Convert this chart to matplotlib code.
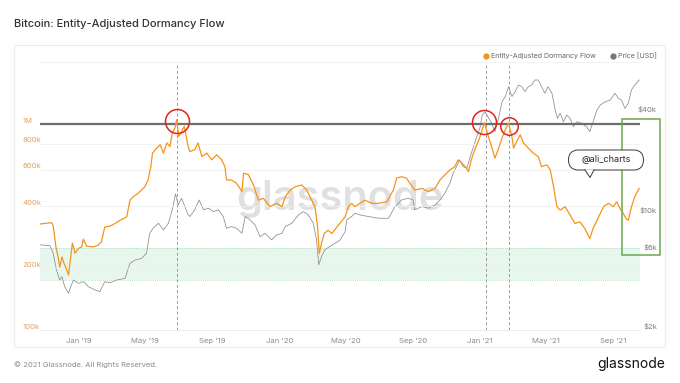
import matplotlib
matplotlib.use("Agg")
import numpy as np
import pandas as pd
from matplotlib import pyplot as plt
from matplotlib.patches import Rectangle, FancyBboxPatch, Polygon
from matplotlib.ticker import NullLocator

plt.rcParams['font.family'] = ['Inter', 'DejaVu Sans']

# ---- data ----
flow_dates = [
    '2018-10-22', '2018-11-12', '2018-11-15', '2018-11-20', '2018-11-24', '2018-11-27', '2018-12-01',
    '2018-12-05', '2018-12-10', '2018-12-13', '2018-12-17', '2018-12-20', '2018-12-25', '2018-12-31',
    '2019-01-06', '2019-01-09', '2019-01-15', '2019-01-27', '2019-02-05', '2019-02-11', '2019-02-17',
    '2019-02-26', '2019-03-08', '2019-03-17', '2019-03-29', '2019-04-04', '2019-04-10', '2019-04-19',
    '2019-05-01', '2019-05-07', '2019-05-12', '2019-05-15', '2019-05-20', '2019-05-29', '2019-06-04',
    '2019-06-10', '2019-06-16', '2019-06-20', '2019-06-25', '2019-06-28', '2019-07-02', '2019-07-07',
    '2019-07-12', '2019-07-19', '2019-07-22', '2019-07-31', '2019-08-06', '2019-08-13', '2019-08-22',
    '2019-08-31', '2019-09-09', '2019-09-18', '2019-09-24', '2019-09-27', '2019-10-06', '2019-10-15',
    '2019-10-25', '2019-10-28', '2019-11-06', '2019-11-15', '2019-11-24', '2019-12-03', '2019-12-15',
    '2019-12-27', '2020-01-06', '2020-01-12', '2020-01-21', '2020-01-30', '2020-02-11', '2020-02-20',
    '2020-02-29', '2020-03-06', '2020-03-11', '2020-03-14', '2020-03-18', '2020-03-23', '2020-03-30',
    '2020-04-06', '2020-04-15', '2020-04-24', '2020-04-30', '2020-05-06', '2020-05-12', '2020-05-18',
    '2020-05-27', '2020-06-05', '2020-06-18', '2020-06-30', '2020-07-15', '2020-07-27', '2020-08-02',
    '2020-08-11', '2020-08-20', '2020-08-26', '2020-09-04', '2020-09-17', '2020-09-29', '2020-10-11',
    '2020-10-20', '2020-10-29', '2020-11-07', '2020-11-16', '2020-11-22', '2020-11-29', '2020-12-05',
    '2020-12-11', '2020-12-16', '2020-12-20', '2020-12-26', '2020-12-30', '2021-01-04', '2021-01-09',
    '2021-01-16', '2021-01-22', '2021-01-28', '2021-02-03', '2021-02-10', '2021-02-16', '2021-02-22',
    '2021-02-28', '2021-03-03', '2021-03-09', '2021-03-15', '2021-03-21', '2021-03-30', '2021-04-08',
    '2021-04-17', '2021-04-23', '2021-05-03', '2021-05-09', '2021-05-15', '2021-05-21', '2021-05-27',
    '2021-06-05', '2021-06-14', '2021-06-23', '2021-07-02', '2021-07-11', '2021-07-20', '2021-07-26',
    '2021-08-05', '2021-08-14', '2021-08-23', '2021-09-01', '2021-09-07', '2021-09-13', '2021-09-19',
    '2021-09-24', '2021-09-28', '2021-10-04', '2021-10-10', '2021-10-18',
]
flow_k = [
    327, 332, 322, 253, 226, 202, 226,
    210, 195, 185, 226, 264, 236, 249,
    253, 276, 255, 253, 258, 268, 316,
    319, 329, 341, 354, 427, 444, 461,
    496, 535, 621, 722, 750, 793, 722,
    809, 778, 904, 957, 1050, 870, 921,
    974, 778, 735, 750, 809, 695, 722,
    670, 709, 670, 621, 535, 535, 516,
    470, 577, 567, 506, 427, 436, 397,
    412, 397, 444, 478, 496, 506, 478,
    427, 397, 316, 235, 263, 294, 305,
    294, 316, 338, 354, 397, 412, 397,
    412, 427, 412, 412, 419, 478, 546,
    555, 546, 516, 478, 487, 470, 487,
    535, 567, 598, 621, 670, 646, 621,
    587, 670, 722, 793, 838, 921, 1016,
    870, 778, 683, 750, 855, 938, 1011,
    870, 764, 823, 887, 809, 764, 722,
    695, 621, 633, 598, 496, 397, 382,
    397, 362, 329, 335, 311, 278, 311,
    354, 397, 412, 397, 419, 389, 368,
    348, 341, 397, 444, 487,
]

price_dates = [
    '2018-10-22', '2018-11-09', '2018-11-15', '2018-11-21', '2018-11-27', '2018-12-01', '2018-12-06',
    '2018-12-13', '2018-12-17', '2018-12-22', '2018-12-31', '2019-01-09', '2019-01-18', '2019-01-30',
    '2019-02-08', '2019-02-17', '2019-02-26', '2019-03-11', '2019-03-26', '2019-04-04', '2019-04-13',
    '2019-04-25', '2019-05-04', '2019-05-10', '2019-05-16', '2019-05-26', '2019-06-04', '2019-06-13',
    '2019-06-20', '2019-06-26', '2019-07-01', '2019-07-07', '2019-07-13', '2019-07-19', '2019-07-22',
    '2019-07-31', '2019-08-08', '2019-08-16', '2019-08-25', '2019-09-03', '2019-09-12', '2019-09-21',
    '2019-09-27', '2019-10-06', '2019-10-15', '2019-10-25', '2019-10-31', '2019-11-09', '2019-11-18',
    '2019-11-27', '2019-12-06', '2019-12-18', '2019-12-27', '2020-01-06', '2020-01-12', '2020-01-24',
    '2020-02-05', '2020-02-14', '2020-02-23', '2020-03-03', '2020-03-09', '2020-03-13', '2020-03-18',
    '2020-03-24', '2020-04-02', '2020-04-12', '2020-04-21', '2020-04-30', '2020-05-03', '2020-05-12',
    '2020-05-18', '2020-05-27', '2020-06-11', '2020-06-30', '2020-07-18', '2020-07-30', '2020-08-11',
    '2020-08-23', '2020-09-01', '2020-09-04', '2020-09-17', '2020-09-29', '2020-10-11', '2020-10-20',
    '2020-10-29', '2020-11-07', '2020-11-13', '2020-11-19', '2020-11-25', '2020-12-01', '2020-12-08',
    '2020-12-14', '2020-12-20', '2020-12-26', '2021-01-01', '2021-01-05', '2021-01-10', '2021-01-17',
    '2021-01-22', '2021-01-28', '2021-02-03', '2021-02-10', '2021-02-16', '2021-02-22', '2021-02-28',
    '2021-03-06', '2021-03-12', '2021-03-18', '2021-03-24', '2021-03-30', '2021-04-05', '2021-04-11',
    '2021-04-17', '2021-04-23', '2021-04-29', '2021-05-05', '2021-05-12', '2021-05-18', '2021-05-22',
    '2021-05-27', '2021-06-02', '2021-06-08', '2021-06-14', '2021-06-20', '2021-06-26', '2021-07-05',
    '2021-07-14', '2021-07-20', '2021-07-25', '2021-08-02', '2021-08-08', '2021-08-17', '2021-08-26',
    '2021-09-04', '2021-09-10', '2021-09-16', '2021-09-22', '2021-09-28', '2021-10-04', '2021-10-10',
    '2021-10-18',
]
price_usd = [
    6480, 6420, 5770, 4580, 3990, 4170, 3640,
    3320, 3640, 3990, 3810, 3900, 3640, 3480,
    3400, 3900, 3840, 3990, 4080, 5020, 5250,
    5380, 5770, 7610, 8150, 8740, 7970, 8740,
    10490, 13120, 11260, 12340, 10990, 9810, 9590,
    10510, 12050, 10510, 10760, 10260, 10510, 9590,
    8150, 8340, 8150, 7610, 9590, 9140, 8530,
    7260, 7610, 6940, 7430, 7610, 8340, 8740,
    9810, 10260, 9810, 8740, 6940, 4920, 5510,
    6050, 6330, 6630, 6940, 7780, 9140, 9590,
    10030, 9810, 9590, 9360, 9360, 10990, 12050,
    12340, 12050, 10510, 10990, 10760, 11260, 12050,
    13240, 15180, 17430, 19080, 20910, 19080, 18670,
    21880, 25100, 28910, 32800, 38930, 40740, 37220,
    34760, 30970, 36370, 46760, 50270, 57630, 50270,
    53800, 59010, 57630, 53800, 57630, 59010, 63190,
    63190, 57630, 52640, 57630, 52640, 41710, 37220,
    39900, 35510, 38930, 37220, 33180, 35510, 34760,
    33180, 30970, 34760, 41710, 44660, 46760, 47850,
    52640, 49080, 47850, 42670, 45740, 55060, 59010,
    63190,
]

left_ticks = [100e3, 200e3, 400e3, 600e3, 800e3, 1e6]
left_labels = ['100k', '200k', '400k', '600k', '800k', '1M']
right_ticks = [2e3, 6e3, 10e3, 40e3]
right_labels = ['$2k', '$6k', '$10k', '$40k']
xtick_dates = ['2019-01-01', '2019-05-01', '2019-09-01', '2020-01-01', '2020-05-01',
               '2020-09-01', '2021-01-01', '2021-05-01', '2021-09-01']
xtick_labels = ["Jan '19", "May '19", "Sep '19", "Jan '20", "May '20",
                "Sep '20", "Jan '21", "May '21", "Sep '21"]

# annotations drawn on top of the chart
peak_dates = ['2019-06-28', '2021-01-11', '2021-02-23']
circle_dates = ['2019-06-28', '2021-01-09', '2021-02-23']
circle_values = [1.03e6, 1.02e6, 0.978e6]
circle_px = [24, 24, 17.5]
level_line = 1e6
band_usd = (4000, 6200)

ORANGE = '#f7931a'
GREY = '#8c8c8c'

flow = np.array(flow_k) * 1e3
fdates = pd.to_datetime(flow_dates)
pdates = pd.to_datetime(price_dates)

fig = plt.figure(figsize=(6.8, 3.83), dpi=100)
fig.patch.set_facecolor('white')

ax = fig.add_axes([40/680, 1 - 330/383, 600/680, 268/383])
ax2 = ax.twinx()
ax.set_zorder(ax2.get_zorder() + 1)
ax.patch.set_visible(False)

ax.set_yscale('log')
ax.set_ylim(1e5, 2e6)
ax2.set_yscale('log')
ax2.set_ylim(2000, 81000)
ax.set_xlim(pd.Timestamp('2018-10-22'), pd.Timestamp('2021-10-19 12:00'))

for a in (ax, ax2):
    for s in a.spines.values():
        s.set_visible(False)
    a.yaxis.set_minor_locator(NullLocator())
ax.spines['bottom'].set_visible(True)
ax.spines['bottom'].set_color('#e6e6e6')
ax.spines['bottom'].set_linewidth(0.6)
ax.spines['top'].set_visible(True)
ax.spines['top'].set_color('#f0f0f0')
ax.spines['top'].set_linewidth(0.6)

ax.set_yticks(left_ticks)
ax.tick_params(axis='y', length=0, labelleft=False)
ax.yaxis.grid(True, color='#f0f0f0', lw=0.6)
ax2.set_yticks([])

ax.set_xticks(pd.to_datetime(xtick_dates))
ax.set_xticklabels(xtick_labels)
ax.tick_params(axis='x', length=0, pad=6, labelsize=5.5, labelcolor='#8a8a8a')

for v, lab in zip(left_ticks, left_labels):
    ax.annotate(lab, xy=(0, v), xycoords=('axes fraction', 'data'),
                xytext=(-12.5, 2.5), textcoords='offset points',
                ha='left', va='center', fontsize=5.5, color='#e0a35f')
for v, lab in zip(right_ticks, right_labels):
    ax2.annotate(lab, xy=(1, v), xycoords=('axes fraction', 'data'),
                 xytext=(12.2, 2.5), textcoords='offset points',
                 ha='right', va='center', fontsize=5.5, color='#7a7a7a')

# band + watermark behind the price line
ax2.axhspan(band_usd[0], band_usd[1], color='#e7f7ee', lw=0, zorder=0)
for b in band_usd:
    ax2.axhline(b, color='#a6d8ba', lw=0.6, ls=(0, (1, 1.5)), zorder=0.5)
ax2.text(0.5, 0.448, 'glassnode', transform=ax2.transAxes, fontsize=30,
         color='#e0e0e0', ha='center', va='baseline', fontweight='semibold', zorder=1)

ax2.plot(pdates, price_usd, color=GREY, lw=0.55, zorder=3)

for d in peak_dates:
    ax.axvline(pd.Timestamp(d), color='#9a9a9a', lw=0.7, ls=(0, (3, 2.5)), zorder=2)
ax.axhline(level_line, color='#6e6e6e', lw=1.6, zorder=3)
ax.plot(fdates, flow, color=ORANGE, lw=0.9, zorder=4)
for d, v, px in zip(circle_dates, circle_values, circle_px):
    ax.plot(pd.Timestamp(d), v, 'o', ms=px * 0.72, mfc='none', mec='#e0241b', mew=1.1, zorder=5)

# overlay in pixel units for the frame, title, legend and notes
ov = fig.add_axes([0, 0, 1, 1], zorder=10)
ov.set_xlim(0, 680)
ov.set_ylim(383, 0)
ov.axis('off')
ov.patch.set_visible(False)

ov.text(14, 24, 'Bitcoin: Entity-Adjusted Dormancy Flow', fontsize=8, color='#333333',
        va='center', ha='left', fontweight='medium')
ov.add_patch(Rectangle((14, 45), 651, 301.7, fill=False, ec='#ececec', lw=0.8))

ov.plot(486, 56, 'o', ms=3.5, color=ORANGE)
ov.text(491, 56, 'Entity-Adjusted Dormancy Flow', fontsize=5.1, color='#666666', va='center')
ov.plot(613, 56, 'o', ms=3.5, color='#777777')
ov.text(618, 56, 'Price [USD]', fontsize=5.1, color='#666666', va='center')

ov.add_patch(Rectangle((621.7, 119.3), 38.3, 135.7, fill=False, ec='#6aa84f', lw=1.1))

ov.add_patch(FancyBboxPatch((568.5, 150), 75, 20, boxstyle='round,pad=0,rounding_size=10',
                            fc='white', ec='#3a3a3a', lw=0.7))
ov.add_patch(Polygon([(585, 169.5), (590, 177.5), (594, 169.5)], closed=True, fc='white', ec='none'))
ov.plot([585, 590, 594], [170, 177.5, 170], color='#3a3a3a', lw=0.7)
ov.text(606, 160, '@ali_charts', fontsize=6.5, color='#222222', ha='center', va='center')

ov.text(14, 365, '\u00a9 2021 Glassnode. All Rights Reserved.', fontsize=5.5, color='#8c8c8c', va='center')
ov.text(665, 364, 'glassnode', fontsize=10, color='#111111', ha='right', va='center')

fig.savefig('out.png', dpi=100)
